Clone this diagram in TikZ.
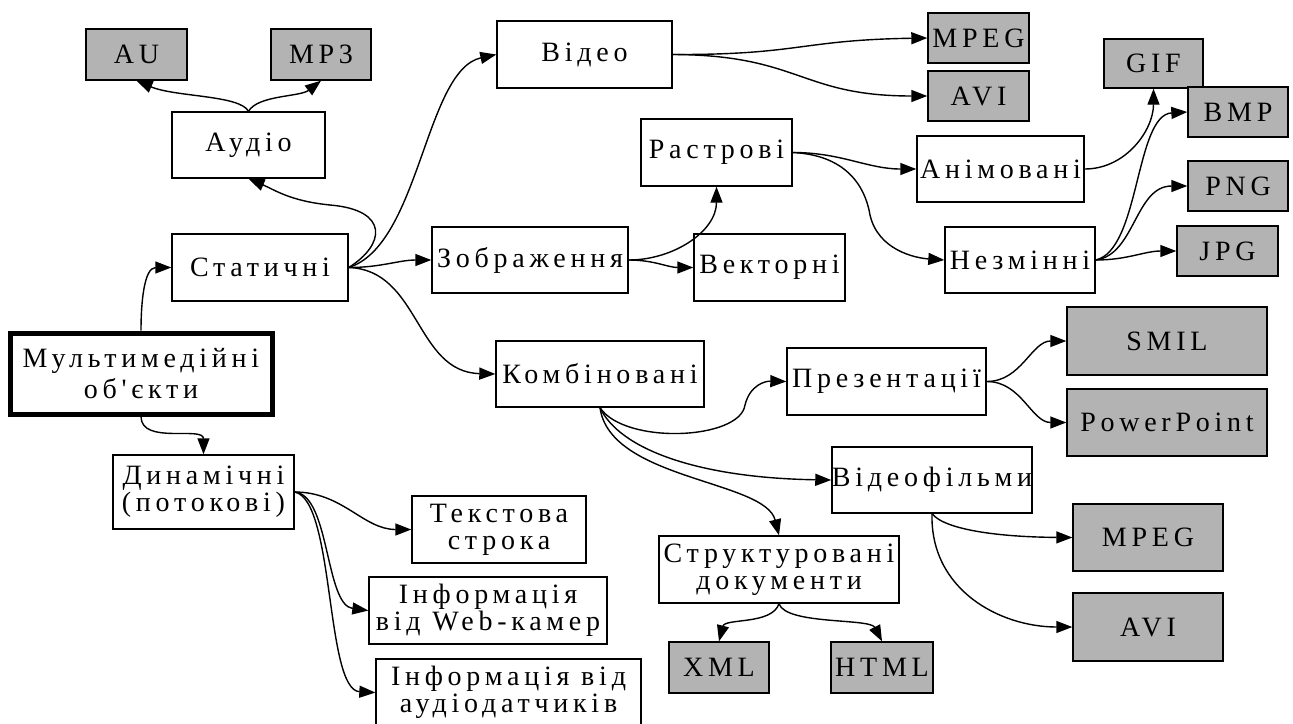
\documentclass[tikz,border=0pt]{standalone}
\usepackage{fontspec}
\usepackage{tikz}
\usetikzlibrary{arrows.meta}
\newfontfamily\ukr{Liberation Serif}[LetterSpace=17]
\definecolor{fmtgray}{RGB}{179,179,179}
\newcommand{\pxunit}{0.5pt}
\newcommand{\mmbox}[7]{
	\node[#1, minimum width={(#5-#3)*\pxunit}, minimum height={(#6-#4)*\pxunit}]
		(#2) at ({(#3+#5)/2},{(#4+#6)/2}) {#7};
}
\tikzset{
	box/.style={draw, line width=0.7pt, inner sep=0pt, align=center,
		font=\ukr\fontsize{14}{13.5}\selectfont},
	fmt/.style={box, fill=fmtgray},
	root/.style={box, line width=2.5pt},
	conn/.style={line width=0.7pt, -{Triangle[length=8pt,width=6pt]}}
}

\begin{document}
\begin{tikzpicture}[x=\pxunit,y=-\pxunit]
	\useasboundingbox (0,0) rectangle (1293,723);

	\mmbox{root}{mm}{10}{333}{272}{414}{Мультимедійні\\[2pt]об'єкти}
	\mmbox{box}{stat}{172}{234}{348}{301}{Статичні}
	\mmbox{box}{dyn}{113}{455}{294}{529}{Динамічні\\(потокові)}
	\mmbox{box}{audio}{172}{112}{325}{178}{Аудіо}
	\mmbox{fmt}{au}{86}{29}{187}{80}{AU}
	\mmbox{fmt}{mp3}{271}{29}{371}{80}{MP3}
	\mmbox{box}{video}{497}{21}{672}{88}{Відео}
	\mmbox{fmt}{mpegA}{928}{13}{1029}{63}{MPEG}
	\mmbox{fmt}{aviA}{928}{71}{1029}{121}{AVI}
	\mmbox{box}{zobr}{432}{227}{628}{293}{Зображення}
	\mmbox{box}{rastr}{641}{119}{792}{186}{Растрові}
	\mmbox{box}{vect}{694}{234}{845}{301}{Векторні}
	\mmbox{box}{anim}{917}{136}{1084}{202}{Анімовані}
	\mmbox{box}{nezm}{945}{227}{1095}{293}{Незмінні}
	\mmbox{fmt}{gif}{1104}{39}{1203}{88}{GIF}
	\mmbox{fmt}{bmp}{1188}{87}{1288}{137}{BMP}
	\mmbox{fmt}{png}{1188}{161}{1288}{211}{PNG}
	\mmbox{fmt}{jpg}{1177}{226}{1278}{276}{JPG}
	\mmbox{box}{komb}{496}{341}{704}{407}{Комбіновані}
	\mmbox{box}{prez}{787}{348}{986}{415}{Презентації}
	\mmbox{fmt}{smil}{1067}{307}{1267}{375}{SMIL}
	\mmbox{fmt}{ppt}{1067}{389}{1267}{456}{PowerPoint}
	\mmbox{box}{vfilm}{832}{447}{1032}{513}{Відеофільми}
	\mmbox{fmt}{mpegB}{1073}{504}{1223}{571}{MPEG}
	\mmbox{fmt}{aviB}{1073}{593}{1223}{661}{AVI}
	\mmbox{box}{struct}{659}{536}{899}{603}{Структуровані\\документи}
	\mmbox{fmt}{xml}{669}{642}{769}{693}{XML}
	\mmbox{fmt}{html}{831}{642}{933}{693}{HTML}
	\mmbox{box}{txt}{412}{496}{586}{563}{Текстова\\строка}
	\mmbox{box}{web}{369}{577}{607}{644}{Інформація\\від Web-камер}
	\mmbox{box}{sens}{376}{659}{641}{726}{Інформація від\\аудіодатчиків}

	\draw[conn] (mm.north) to[out=90,in=180] (stat.west);
	\draw[conn] (mm.south) to[out=-90,in=90] (dyn.north);

	\draw[conn] (stat.east) .. controls (385,245) and (390,210) .. (330,205)
		.. controls (290,201) and (275,190) .. (audio.south);
	\draw[conn] (stat.east) .. controls (420,245) and (425,70) .. (video.west);
	\draw[conn] (stat.east) to[out=0,in=180] (zobr.west);
	\draw[conn] (stat.east) .. controls (420,270) and (415,372) .. (komb.west);

	\draw[conn] (audio.north) .. controls (240,95) and (175,97) .. (au.south);
	\draw[conn] (audio.north) .. controls (258,95) and (300,97) .. (mp3.south);

	\draw[conn] (video.east) .. controls (800,55) and (800,40) .. (mpegA.west);
	\draw[conn] (video.east) .. controls (800,55) and (800,96) .. (aviA.west);

	\draw[conn] (zobr.east) to[out=0,in=-90] (rastr.south);
	\draw[conn] (zobr.east) to[out=0,in=180] (vect.west);

	\draw[conn] (rastr.east) to[out=0,in=180] (anim.west);
	\draw[conn] (rastr.east) .. controls (845,155) and (865,185) .. (870,215)
		.. controls (878,250) and (915,258) .. (nezm.west);

	\draw[conn] (anim.east) to[out=0,in=-90] (gif.south);
	\draw[conn] (nezm.east) .. controls (1140,250) and (1135,115) .. (bmp.west);
	\draw[conn] (nezm.east) .. controls (1135,255) and (1135,186) .. (png.west);
	\draw[conn] (nezm.east) to[out=0,in=180] (jpg.west);

	\draw[conn] (komb.south) .. controls (625,445) and (740,440) .. (745,405)
		.. controls (750,385) and (765,381) .. (prez.west);
	\draw[conn] (komb.south) .. controls (620,450) and (700,478) .. (vfilm.west);
	\draw[conn] (komb.south) .. controls (610,480) and (765,480) .. (struct.north);

	\draw[conn] (struct.south) .. controls (772,625) and (725,618) .. (xml.north);
	\draw[conn] (struct.south) .. controls (786,625) and (870,618) .. (html.north);

	\draw[conn] (prez.east) to[out=0,in=180] (smil.west);
	\draw[conn] (prez.east) to[out=0,in=180] (ppt.west);

	\draw[conn] (vfilm.south) .. controls (945,530) and (1000,537) .. (mpegB.west);
	\draw[conn] (vfilm.south) .. controls (930,590) and (1000,627) .. (aviB.west);

	\draw[conn] (dyn.east) to[out=0,in=180] (txt.west);
	\draw[conn] (dyn.east) .. controls (330,495) and (325,605) .. (web.west);
	\draw[conn] (dyn.east) .. controls (335,500) and (325,690) .. (sens.west);

\end{tikzpicture}
\end{document}
